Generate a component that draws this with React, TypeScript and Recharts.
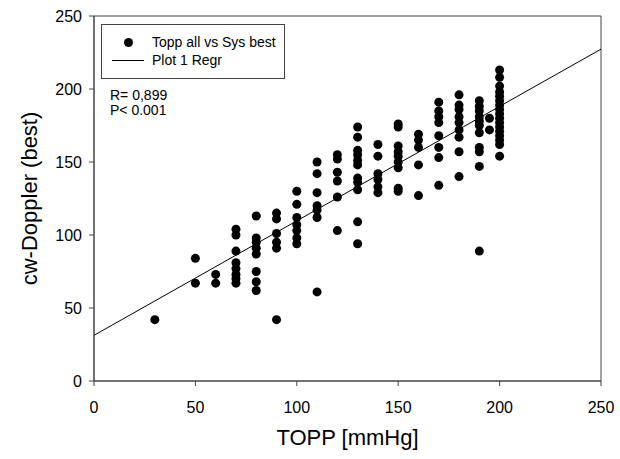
import React from 'react';
import { ScatterChart, Scatter, XAxis, YAxis, ReferenceLine, ReferenceArea } from 'recharts';

const TOPP = [30, 50, 60, 70, 80, 90, 100, 110, 120, 130, 140, 150, 160, 170, 180, 190, 195, 200];
const DOPPLER = [
  [42],
  [84, 67],
  [73, 67],
  [104, 100, 89, 81, 77, 73, 70, 67],
  [113, 98, 95, 91, 87, 75, 68, 62],
  [115, 111, 101, 95, 91, 42],
  [130, 121, 112, 107, 103, 98, 94],
  [150, 142, 129, 120, 117, 112, 61],
  [155, 152, 143, 137, 126, 103],
  [174, 167, 158, 155, 151, 148, 139, 136, 131, 109, 94],
  [162, 154, 142, 138, 133, 129],
  [176, 174, 161, 157, 154, 150, 146, 132, 130],
  [169, 165, 160, 148, 127],
  [191, 185, 181, 177, 168, 160, 153, 134],
  [196, 189, 186, 181, 177, 172, 167, 157, 140],
  [192, 188, 185, 181, 178, 175, 170, 160, 157, 147, 89],
  [180, 172],
  [213, 208, 202, 198, 195, 192, 189, 186, 183, 180, 177, 174, 171, 168, 165, 162, 154],
];
const X_TICKS = [0, 50, 100, 150, 200, 250];
const Y_TICKS = [0, 50, 100, 150, 200, 250];
const REGRESSION = [{ x: 0, y: 31.3 }, { x: 250, y: 227.3 }];
const LEGEND_LABELS = ['Topp all vs Sys best', 'Plot 1 Regr'];
const STATS = ['R= 0,899', 'P< 0.001'];
const X_TITLE = 'TOPP [mmHg]';
const Y_TITLE = 'cw-Doppler (best)';

const points = TOPP.flatMap((x, i) => DOPPLER[i].map((y) => ({ x, y })));

const FONT = '"Liberation Sans", Arial, sans-serif';
const AXIS = '#444';

const Dot = (props: any) => <circle cx={props.cx} cy={props.cy} r={4.5} fill="#000" />;

const XTitle = (props: any) => {
  const vb = props.viewBox;
  return (
    <text x={vb.x + vb.width / 2} y={445} textAnchor="middle" fontSize={22} fontFamily={FONT} fill="#000">
      {X_TITLE}
    </text>
  );
};

const YTitle = (props: any) => {
  const vb = props.viewBox;
  const cy = vb.y + vb.height / 2;
  return (
    <text x={37} y={cy} textAnchor="middle" fontSize={22} fontFamily={FONT} fill="#000" transform={`rotate(-90 37 ${cy})`}>
      {Y_TITLE}
    </text>
  );
};

export default function App() {
  return (
    <div style={{ position: 'absolute', left: 0, top: 0, width: 620, height: 459, background: '#fff', fontFamily: FONT }}>
      <ScatterChart width={620} height={459} margin={{ top: 16, right: 19, bottom: 0, left: 0 }}>
        <XAxis
          type="number"
          dataKey="x"
          domain={[0, 250]}
          ticks={X_TICKS}
          interval={0}
          height={78}
          tickSize={5}
          tickMargin={16}
          stroke={AXIS}
          tick={{ fill: '#000', fontSize: 16, fontFamily: FONT }}
          label={{ content: XTitle }}
        />
        <YAxis
          type="number"
          dataKey="y"
          domain={[0, 250]}
          ticks={Y_TICKS}
          interval={0}
          width={94}
          tickSize={5}
          tickMargin={7}
          stroke={AXIS}
          tick={{ fill: '#000', fontSize: 16, fontFamily: FONT }}
          label={{ content: YTitle }}
        />
        <ReferenceArea x1={0} x2={250} y1={0} y2={250} fill="none" fillOpacity={0} stroke={AXIS} strokeOpacity={1} ifOverflow="visible" />
        <ReferenceLine segment={REGRESSION} stroke="#000" strokeWidth={1} ifOverflow="visible" />
        <Scatter data={points} isAnimationActive={false} shape={Dot} />
      </ScatterChart>
      <div style={{ position: 'absolute', left: 101, top: 24, width: 184, height: 55, border: `1px solid ${AXIS}`, boxSizing: 'border-box', background: '#fff' }}>
        <div style={{ position: 'absolute', left: 22, top: 13, width: 9, height: 9, borderRadius: '50%', background: '#000' }} />
        <div style={{ position: 'absolute', left: 10, top: 35, width: 32, height: 1, background: '#000' }} />
        <div style={{ position: 'absolute', left: 50, top: 9, fontSize: 14, lineHeight: '16px', whiteSpace: 'nowrap', color: '#000' }}>{LEGEND_LABELS[0]}</div>
        <div style={{ position: 'absolute', left: 50, top: 27, fontSize: 14, lineHeight: '16px', whiteSpace: 'nowrap', color: '#000' }}>{LEGEND_LABELS[1]}</div>
      </div>
      <div style={{ position: 'absolute', left: 110, top: 87, fontSize: 14, lineHeight: '16px', whiteSpace: 'nowrap', color: '#000' }}>{STATS[0]}</div>
      <div style={{ position: 'absolute', left: 110, top: 102, fontSize: 14, lineHeight: '16px', whiteSpace: 'nowrap', color: '#000' }}>{STATS[1]}</div>
    </div>
  );
}
